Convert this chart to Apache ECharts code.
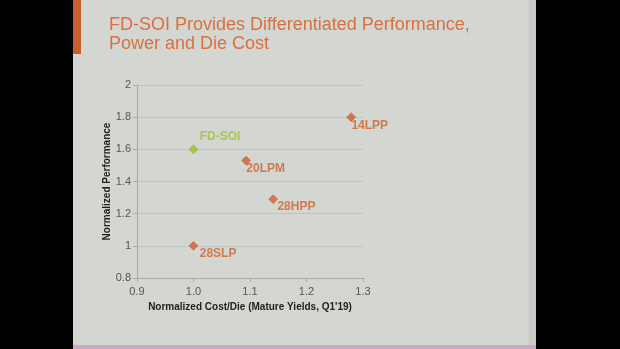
<!DOCTYPE html>
<html>
<head>
<meta charset="utf-8">
<script src="https://cdn.jsdelivr.net/npm/echarts@6/dist/echarts.min.js"></script>
<style>html,body{margin:0;padding:0;background:#000;}#c{width:620px;height:349px;}</style>
</head>
<body>
<div id="c"></div>
<script>
var titleLines = ['FD-SOI Provides Differentiated Performance,', 'Power and Die Cost'];
var xAxisName = "Normalized Cost/Die (Mature Yields, Q1'19)";
var yAxisName = 'Normalized Performance';
var xTicks = ['0.9', '1.0', '1.1', '1.2', '1.3'];
var yTicks = ['0.8', '1', '1.2', '1.4', '1.6', '1.8', '2'];
var processNames = ['14LPP', '20LPM', '28HPP', '28SLP'];
var processCost = [1.279, 1.093, 1.141, 1.0];
var processPerf = [1.80, 1.53, 1.29, 1.00];
var fdsoiNames = ['FD-SOI'];
var fdsoiCost = [1.0];
var fdsoiPerf = [1.60];

var labelOffsets = { '14LPP': [5, 13], '20LPM': [5, 13], '28HPP': [9, 12], '28SLP': [11, 13], 'FD-SOI': [11, -8] };
var orange = '#cf5f2b', green = '#9dbd30';

function mk(names, xs, ys) {
  return names.map(function (n, i) {
    return { name: n, value: [xs[i], ys[i]], label: { position: labelOffsets[n] } };
  });
}

var chart = echarts.init(document.getElementById('c'));
chart.setOption({
  backgroundColor: '#000',
  animation: false,
  graphic: [
    { type: 'rect', shape: { x: 73, y: 0, width: 463, height: 345 }, style: { fill: '#d4d6d1' }, z: -10 },
    { type: 'rect', shape: { x: 529, y: 0, width: 7, height: 345 }, style: { fill: '#c9cbc6' }, z: -9 },
    { type: 'rect', shape: { x: 73, y: 0, width: 8, height: 54 }, style: { fill: '#c8602e' }, z: -8 },
    { type: 'rect', shape: { x: 73, y: 345, width: 463, height: 4 }, style: { fill: '#c9a9c4' }, z: -8 },
    { type: 'text', left: 109, top: 16, style: { text: titleLines[0], fill: '#d8703f', font: '18px "Liberation Sans", Arial, sans-serif' } },
    { type: 'text', left: 109, top: 35, style: { text: titleLines[1], fill: '#d8703f', font: '18px "Liberation Sans", Arial, sans-serif' } }
  ],
  grid: { left: 137, right: 257, top: 85, bottom: 71, containLabel: false },
  xAxis: {
    type: 'value', min: 0.9, max: 1.3, interval: 0.1,
    name: xAxisName, nameLocation: 'middle', nameGap: 19,
    nameTextStyle: { color: '#222', fontSize: 10, fontWeight: 'bold', fontFamily: '"Liberation Sans", Arial, sans-serif' },
    axisLine: { lineStyle: { color: '#a9aaa7' } },
    axisTick: { show: true, length: 4, lineStyle: { color: '#a9aaa7' } },
    axisLabel: { color: '#555', fontSize: 11, margin: 8, fontFamily: '"Liberation Sans", Arial, sans-serif',
      formatter: function (v) { var i = Math.round((v - 0.9) * 10); return xTicks[i]; } },
    splitLine: { show: false }
  },
  yAxis: {
    type: 'value', min: 0.8, max: 2, interval: 0.2,
    name: yAxisName, nameLocation: 'middle', nameGap: 23, nameRotate: 90,
    nameTextStyle: { color: '#222', fontSize: 10, fontWeight: 'bold', fontFamily: '"Liberation Sans", Arial, sans-serif' },
    axisLine: { show: true, lineStyle: { color: '#a9aaa7' } },
    axisTick: { show: true, length: 4, lineStyle: { color: '#a9aaa7' } },
    axisLabel: { color: '#555', fontSize: 11, margin: 6, fontFamily: '"Liberation Sans", Arial, sans-serif',
      formatter: function (v) { var i = Math.round((v - 0.8) * 5); return yTicks[i]; } },
    splitLine: { show: true, lineStyle: { color: '#c2c4bf', width: 1 } }
  },
  series: [
    {
      type: 'scatter', symbol: 'diamond', symbolSize: 9,
      itemStyle: { color: orange, borderColor: '#b84f20', borderWidth: 0.5 },
      label: { show: true, formatter: '{b}', color: '#d0612c', fontSize: 12, fontWeight: 'bold',
        fontFamily: '"Liberation Sans", Arial, sans-serif', align: 'left', verticalAlign: 'middle' },
      data: mk(processNames, processCost, processPerf)
    },
    {
      type: 'scatter', symbol: 'diamond', symbolSize: 9,
      itemStyle: { color: green, borderColor: '#86a324', borderWidth: 0.5 },
      label: { show: true, formatter: '{b}', color: '#a2bf37', fontSize: 12, fontWeight: 'bold',
        fontFamily: '"Liberation Sans", Arial, sans-serif', align: 'left', verticalAlign: 'middle' },
      data: mk(fdsoiNames, fdsoiCost, fdsoiPerf)
    }
  ]
});
</script>
</body>
</html>
